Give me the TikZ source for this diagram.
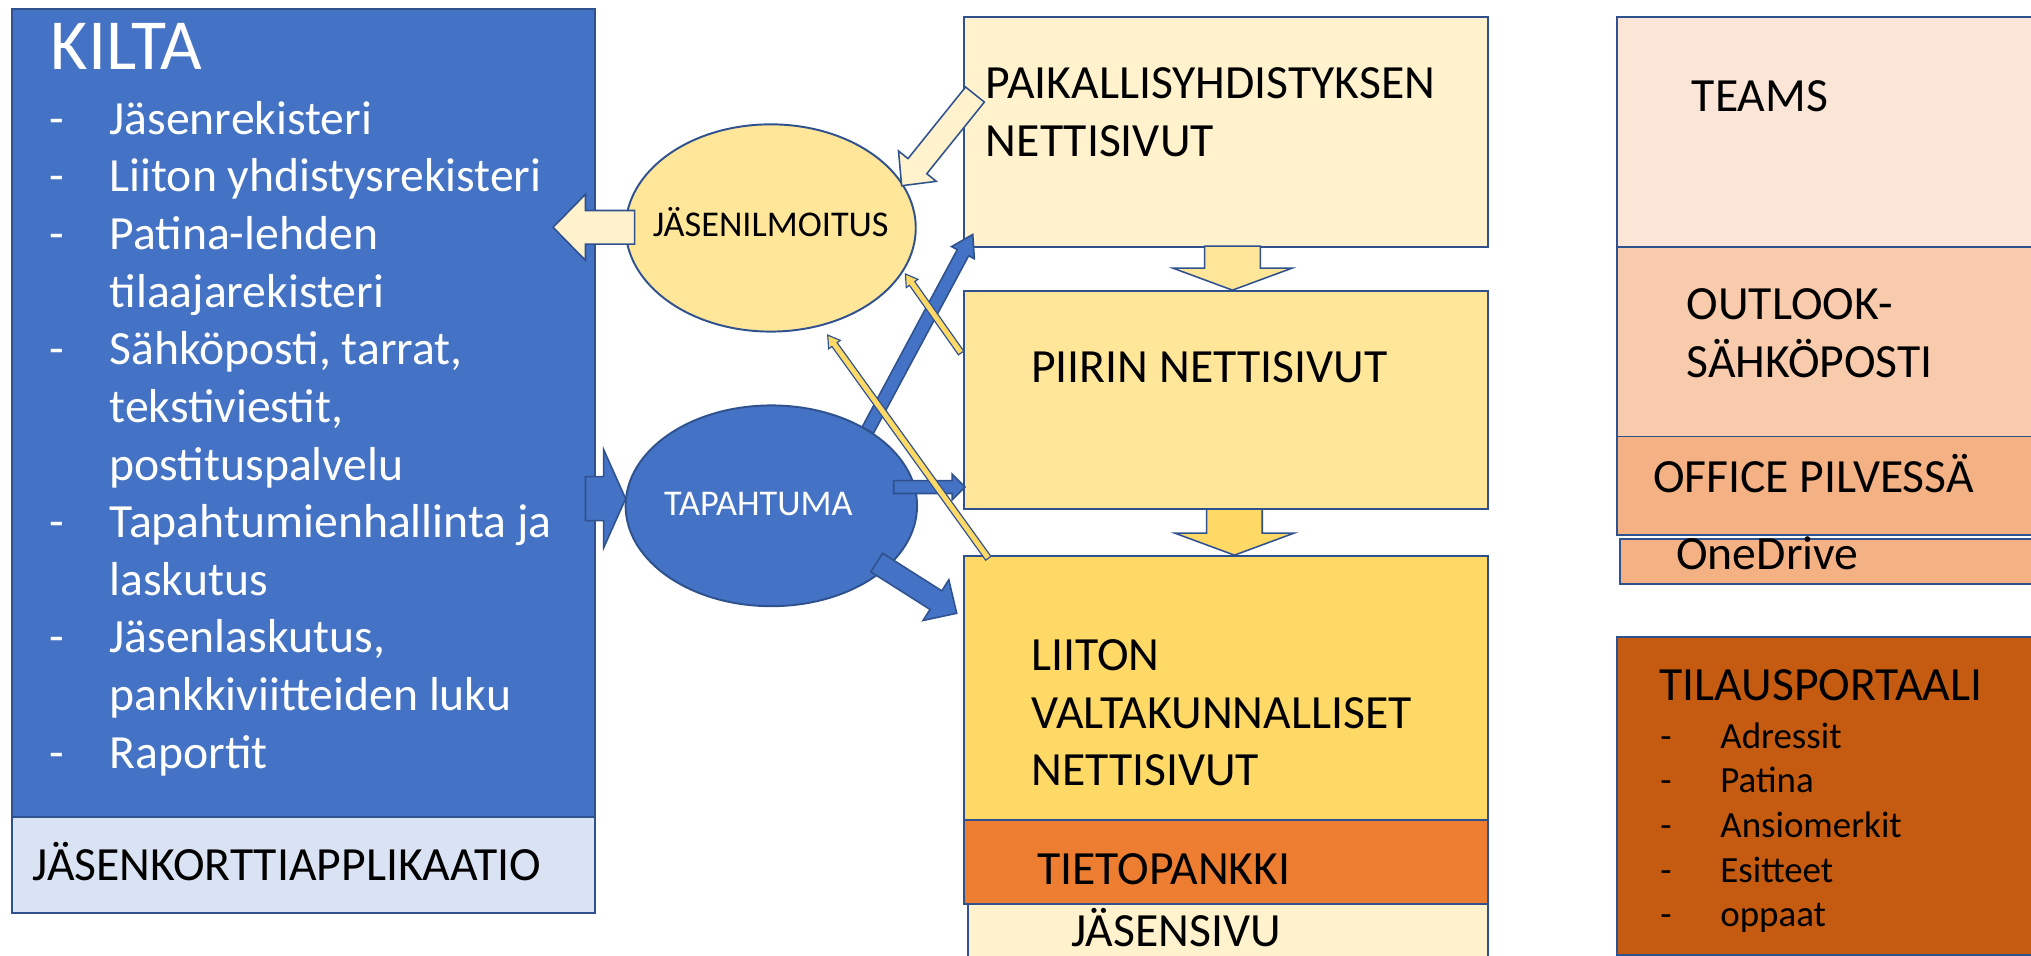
\documentclass[tikz,border=0pt]{standalone}
\usepackage{fontspec}
\setmainfont{Carlito}
\usetikzlibrary{positioning,calc,shapes.geometric}

\definecolor{kiltablue}{HTML}{4472C4}
\definecolor{edgeblue}{HTML}{2F528F}
\definecolor{cardblue}{HTML}{DAE3F3}
\definecolor{gold80}{HTML}{FFF2CC}
\definecolor{gold60}{HTML}{FFE699}
\definecolor{gold40}{HTML}{FFD966}
\definecolor{tietoorange}{HTML}{ED7D31}
\definecolor{peach80}{HTML}{FBE5D6}
\definecolor{peach60}{HTML}{F8CBAD}
\definecolor{peach40}{HTML}{F4B183}
\definecolor{rust}{HTML}{C55A11}

% fat arrow: [style]{from}{to}{half shaft}{half head}{head length}
\newcommand\blockarrow[6][]{%
  \coordinate (ba-h) at ($(#3)!#6!(#2)$);
  \draw[#1] ($(#2)!#4!90:(#3)$) -- ($(ba-h)!#4!-90:(#2)$) -- ($(ba-h)!#5!-90:(#2)$) -- (#3)
    -- ($(ba-h)!#5!90:(#2)$) -- ($(ba-h)!#4!90:(#2)$) -- ($(#2)!#4!-90:(#3)$) -- cycle;}

\newcommand\dashlist[2]{\begin{tabular}[t]{@{}p{#1}@{}l@{}}#2\end{tabular}}

\begin{document}
\begin{tikzpicture}[x=1pt,y=1pt,
    box/.style={draw=edgeblue, line width=1.5pt, inner sep=0pt, outer sep=0pt, anchor=north west},
    oval/.style={ellipse, draw=edgeblue, line width=1.5pt, inner sep=0pt},
    txt/.style={inner sep=0pt, anchor=base west, font=\fontsize{36.8}{44.5}\selectfont},
    ovaltxt/.style={inner sep=0pt, anchor=base, font=\fontsize{28}{34}\selectfont},
    yarrow/.style={draw=edgeblue, line width=1.2pt, fill=gold80},
    barrow/.style={draw=edgeblue, line width=1.2pt, fill=kiltablue},
    thinarrow/.style={draw=edgeblue, line width=0.9pt, fill=gold40}]
  \useasboundingbox (0,0) rectangle (1568,-738);
  \clip (0,0) rectangle (1568,-738);
  \fill[white] (0,0) rectangle (1568,-738);

  % KILTA
  \node[box, fill=kiltablue, minimum width=450pt, minimum height=624pt] (kilta) at (9,-7) {};
  \node[box, fill=cardblue, minimum width=450pt, minimum height=74pt, below=0pt of kilta, anchor=north] (card) {};
  \node[below right=47pt and 30pt of kilta.north west, txt, text=white, font=\fontsize{55.5}{60}\selectfont] (kiltatitle) {KILTA};
  \node[below right=96.6pt and 29pt of kilta.north west, txt, text=white] (kiltalist) {\dashlist{46.4pt}{%
    -&Jäsenrekisteri\\
    -&Liiton yhdistysrekisteri\\
    -&Patina-lehden\\
    &tilaajarekisteri\\
    -&Sähköposti, tarrat,\\
    &tekstiviestit,\\
    &postituspalvelu\\
    -&Tapahtumienhallinta ja\\
    &laskutus\\
    -&Jäsenlaskutus,\\
    &pankkiviitteiden luku\\
    -&Raportit}};
  \node[below right=49pt and 16pt of card.north west, txt] (cardtxt) {JÄSENKORTTIAPPLIKAATIO};

  % nettisivut
  \node[box, fill=gold80, minimum width=405pt, minimum height=178pt] (paik) at (744,-13) {};
  \node[box, fill=gold60, minimum width=405pt, minimum height=168pt, below=34pt of paik, anchor=north] (piirin) {};
  \node[box, fill=gold40, minimum width=405pt, minimum height=204pt, below=36pt of piirin, anchor=north] (liiton) {};
  \node[box, fill=tietoorange, minimum width=405pt, minimum height=65pt, below=0pt of liiton, anchor=north] (tieto) {};
  \node[box, fill=gold80, minimum width=402pt, minimum height=60pt] (jsivu) at (747,-698) {};
  \node[below right=63pt and 17pt of paik.north west, txt] (paiktxt) {\dashlist{0pt}{&PAIKALLISYHDISTYKSEN\\&NETTISIVUT}};
  \node[below right=70.6pt and 52pt of piirin.north west, txt] (piirintxt) {PIIRIN NETTISIVUT};
  \node[below right=88.8pt and 52pt of liiton.north west, txt] (liitontxt) {\dashlist{0pt}{&LIITON\\&VALTAKUNNALLISET\\&NETTISIVUT}};
  \node[below right=49.6pt and 56.7pt of tieto.north west, txt] (tietotxt) {TIETOPANKKI};
  \node[below right=32.5pt and 80pt of jsivu.north west, txt] (jsivutxt) {JÄSENSIVU};

  % office
  \node[box, fill=peach80, minimum width=330pt, minimum height=178pt] (teams) at (1248,-13) {};
  \node[box, fill=peach60, minimum width=330pt, minimum height=146pt, below=0pt of teams, anchor=north] (outlook) {};
  \node[box, fill=peach40, minimum width=330pt, minimum height=76pt, below=0pt of outlook, anchor=north] (officep) {};
  \node[box, fill=peach40, minimum width=330pt, minimum height=35pt] (onedrive) at (1251,-416) {};
  \node[box, fill=rust, minimum width=330pt, minimum height=245pt] (tilaus) at (1248,-492) {};
  \node[below right=73pt and 58pt of teams.north west, txt] (teamstxt) {TEAMS};
  \node[below right=56pt and 54pt of outlook.north west, txt] (outlooktxt) {\dashlist{0pt}{&OUTLOOK-\\&SÄHKÖPOSTI}};
  \node[below right=43pt and 28pt of officep.north west, txt] (officetxt) {OFFICE PILVESSÄ};
  \node[below right=24pt and 43pt of onedrive.north west, txt] (onedrivetxt) {OneDrive};
  \node[below right=49pt and 33pt of tilaus.north west, txt] (tilaustxt) {TILAUSPORTAALI};
  \node[below right=85.6pt and 33.6pt of tilaus.north west, txt, font=\fontsize{28.5}{34.5}\selectfont] (tilauslist) {\dashlist{46.4pt}{%
    -&Adressit\\
    -&Patina\\
    -&Ansiomerkit\\
    -&Esitteet\\
    -&oppaat}};

  % ovals
  \node[oval, fill=gold60, minimum width=224pt, minimum height=160pt] (ilmo) at (595,-176) {};
  \node[oval, fill=kiltablue, minimum width=225pt, minimum height=155pt] (tapa) at (595.5,-390.5) {};
  \node[below=6.7pt of ilmo.center, ovaltxt] (ilmotxt) {JÄSENILMOITUS};
  \node[below left=7.1pt and 10pt of tapa.center, ovaltxt, text=white] (tapatxt) {TAPAHTUMA};

  % arrow ends
  \coordinate (ilmo-out) at (490,-175.5);
  \coordinate (kilta-in) at (427,-175.5);
  \coordinate (kilta-out) at (452,-385);
  \coordinate (tapa-in) at (483,-385);
  \coordinate (paik-out) at (752.7,-73);
  \coordinate (ilmo-in) at (696.1,-143.4);
  \coordinate (tapa-up) at (670,-332);
  \coordinate (paik-in) at (751,-181);
  \coordinate (tapa-right) at (690,-376);
  \coordinate (piirin-in) at (745,-376);
  \coordinate (tapa-down) at (676.8,-434.3);
  \coordinate (liiton-in) at (738.6,-473.5);
  \coordinate (piirin-out) at (742,-272.5);
  \coordinate (ilmo-in2) at (699,-211.5);
  \coordinate (liiton-out) at (763,-431);
  \coordinate (ilmo-in3) at (639,-258.7);
  \coordinate (paik-down) at (951.5,-190);
  \coordinate (piirin-top) at (951.5,-224);
  \coordinate (piirin-down) at (953,-393);
  \coordinate (liiton-top) at (953,-428.6);

  \blockarrow[yarrow]{ilmo-out}{kilta-in}{13pt}{25.5pt}{25pt}
  \blockarrow[barrow]{kilta-out}{tapa-in}{17pt}{38pt}{17pt}
  \blockarrow[yarrow]{paik-out}{ilmo-in}{9.3pt}{18.7pt}{19.4pt}
  \blockarrow[barrow]{tapa-up}{paik-in}{5pt}{10pt}{16pt}
  \blockarrow[barrow]{tapa-right}{piirin-in}{5pt}{10pt}{10pt}
  \blockarrow[barrow]{tapa-down}{liiton-in}{8.5pt}{18.6pt}{19pt}
  \blockarrow[thinarrow]{piirin-out}{ilmo-in2}{2.5pt}{5.5pt}{9pt}
  \blockarrow[thinarrow]{liiton-out}{ilmo-in3}{2.5pt}{5.5pt}{9pt}
  \blockarrow[draw=edgeblue, line width=1.2pt, fill=gold60]{paik-down}{piirin-top}{21.5pt}{46pt}{17pt}
  \blockarrow[draw=edgeblue, line width=1.2pt, fill=gold40]{piirin-down}{liiton-top}{21.5pt}{46pt}{17pt}
\end{tikzpicture}
\end{document}
